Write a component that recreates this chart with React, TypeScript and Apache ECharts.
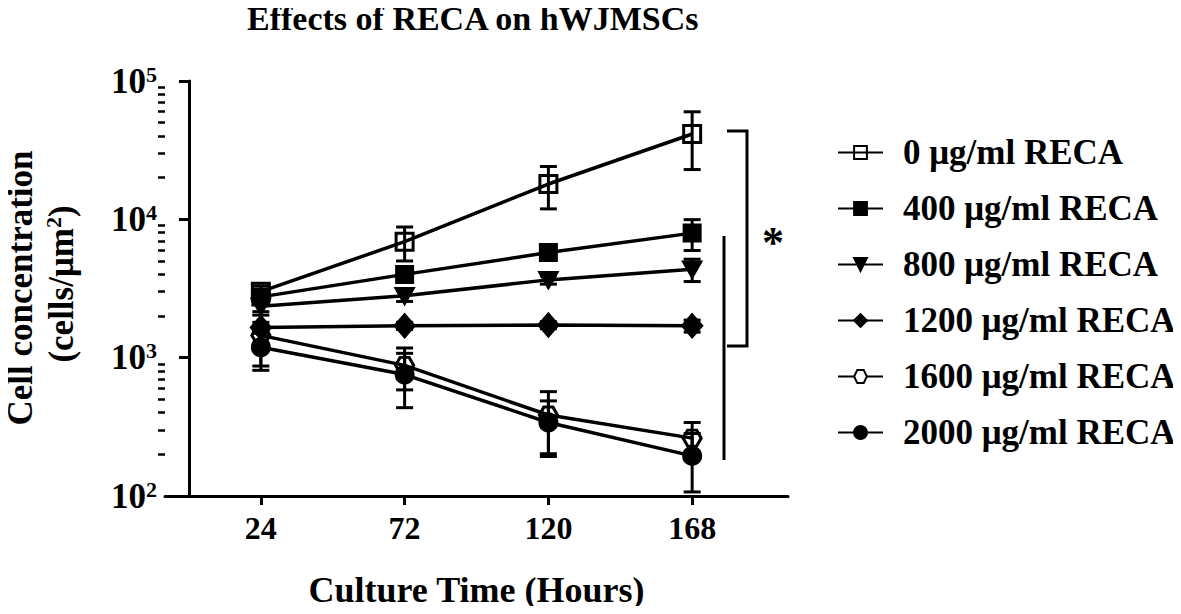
import React, { useEffect, useRef } from "react";
import * as echarts from "echarts";

const hours = [24, 72, 120, 168];
const xTicks = [24, 72, 120, 168];
const yMajor = [100, 1000, 10000, 100000];
const yMinor = [200, 300, 400, 500, 600, 700, 800, 900, 2000, 3000, 4000, 5000, 6000, 7000, 8000, 9000, 20000, 30000, 40000, 50000, 60000, 70000, 80000, 90000];

const names = [
  "0 μg/ml RECA",
  "400 μg/ml RECA",
  "800 μg/ml RECA",
  "1200 μg/ml RECA",
  "1600 μg/ml RECA",
  "2000 μg/ml RECA",
];

const mean0 = [3000, 6900, 18000, 41400];
const sd0 = [300, 1900, 6100, 18500];
const mean400 = [2750, 4000, 5750, 7950];
const sd400 = [250, 300, 400, 2000];
const mean800 = [2350, 2800, 3650, 4350];
const sd800 = [200, 250, 250, 800];
const mean1200 = [1650, 1700, 1720, 1700];
const sd1200 = [150, 100, 100, 170];
const mean1600 = [1450, 880, 385, 262];
const sd1600 = [580, 295, 183, 78];
const mean2000 = [1190, 755, 340, 195];
const sd2000 = [380, 320, 147, 88];

const means = [mean0, mean400, mean800, mean1200, mean1600, mean2000];
const sds = [sd0, sd400, sd800, sd1200, sd1600, sd2000];

const FONT = "'Liberation Serif', 'Times New Roman', serif";
const HEX = "path://M0,5 L3,0 L9,0 L12,5 L9,10 L3,10 Z";
const TRI_DOWN = "path://M0,0 L10,0 L5,9 Z";

const symbols: any[] = [
  { symbol: "rect", size: 17, fill: "rgba(0,0,0,0)" },
  { symbol: "rect", size: 16, fill: "#000" },
  { symbol: TRI_DOWN, size: [17, 15], fill: "#000" },
  { symbol: "diamond", size: [19, 22], fill: "#000" },
  { symbol: HEX, size: [18, 16], fill: "rgba(0,0,0,0)" },
  { symbol: "circle", size: 17, fill: "#000" },
];

export default function App() {
  const ref = useRef<HTMLDivElement>(null);
  useEffect(() => {
    if (!ref.current) return;
    const chart = echarts.init(ref.current, null, { renderer: "svg" });

    const lineSeries = names.map((name, i) => ({
      name,
      type: "line",
      xAxisIndex: 0,
      yAxisIndex: 0,
      data: hours.map((h, j) => [h, means[i][j]]),
      symbol: symbols[i].symbol,
      symbolSize: symbols[i].size,
      showSymbol: true,
      lineStyle: { color: "#000", width: 3.5 },
      itemStyle: { color: symbols[i].fill, borderColor: "#000", borderWidth: 3 },
      z: 3,
    }));

    const errSeries = names.map((name, i) => ({
      name: name + " err",
      type: "custom",
      xAxisIndex: 0,
      yAxisIndex: 0,
      z: 2,
      data: hours.map((h, j) => [h, means[i][j] - sds[i][j], means[i][j] + sds[i][j]]),
      renderItem: (params: any, api: any) => {
        const x = api.value(0);
        const lo = api.coord([x, api.value(1)]);
        const hi = api.coord([x, api.value(2)]);
        const hw = 8.5;
        const style = { stroke: "#000", lineWidth: 3, fill: "none" };
        return {
          type: "group",
          children: [
            { type: "line", shape: { x1: lo[0], y1: lo[1], x2: hi[0], y2: hi[1] }, style },
            { type: "line", shape: { x1: lo[0] - hw, y1: lo[1], x2: lo[0] + hw, y2: lo[1] }, style },
            { type: "line", shape: { x1: hi[0] - hw, y1: hi[1], x2: hi[0] + hw, y2: hi[1] }, style },
          ],
        };
      },
      encode: { x: 0, y: [1, 2] },
      silent: true,
    }));

    const option: any = {
      animation: false,
      backgroundColor: "#fff",
      grid: { left: 165, right: 393, top: 81, bottom: 118, containLabel: false },
      legend: {
        orient: "vertical",
        left: 832,
        top: 130,
        itemWidth: 45,
        itemHeight: 16,
        itemGap: 21,
        data: names.map((n, i) => (i === 4 ? { name: n, itemStyle: { color: "#fff" } } : { name: n })),
        textStyle: {
          fontFamily: FONT,
          fontWeight: "bold",
          fontSize: 35,
          color: "#000",
          padding: [0, 0, 0, 15],
        },
      },
      xAxis: {
        type: "value",
        min: -8,
        max: 200,
        splitLine: { show: false },
        axisLine: { lineStyle: { color: "#000", width: 3 } },
        axisTick: { show: true, customValues: xTicks, length: 9, lineStyle: { color: "#000", width: 3 } },
        axisLabel: {
          customValues: xTicks,
          margin: 16,
          fontFamily: FONT,
          fontWeight: "bold",
          fontSize: 32,
          color: "#000",
        },
        name: "Culture Time (Hours)",
        nameLocation: "middle",
        nameGap: 76,
        nameTextStyle: { fontFamily: FONT, fontWeight: "bold", fontSize: 36, color: "#000" },
      },
      yAxis: [
        {
          type: "log",
          logBase: 10,
          min: 100,
          max: 100000,
          splitLine: { show: false },
          axisLine: { show: true, lineStyle: { color: "#000", width: 3 } },
          axisTick: { show: true, customValues: yMajor, length: 10, lineStyle: { color: "#000", width: 3 } },
          axisLabel: {
            customValues: yMajor,
            margin: 8,
            formatter: (v: number) => `{b|10}{s|${Math.round(Math.log10(v))}}`,
            rich: {
              b: { fontFamily: FONT, fontWeight: "bold", fontSize: 35, color: "#000", lineHeight: 36 },
              s: { fontFamily: FONT, fontWeight: "bold", fontSize: 22, color: "#000", lineHeight: 18, verticalAlign: "top" },
            },
          },
        },
        {
          type: "log",
          logBase: 10,
          min: 100,
          max: 100000,
          position: "left",
          splitLine: { show: false },
          axisLine: { show: false },
          axisLabel: { show: false },
          axisTick: { show: true, customValues: yMinor, length: 7, lineStyle: { color: "#000", width: 2.5 } },
        },
      ],
      graphic: [
        {
          type: "text",
          x: 247,
          y: 18,
          style: {
            text: "Effects of RECA on hWJMSCs",
            font: `bold 34px ${FONT}`,
            fill: "#000",
            align: "left",
            verticalAlign: "middle",
          },
        },
        {
          type: "text",
          x: 20,
          y: 288,
          rotation: Math.PI / 2,
          style: {
            text: "Cell concentration",
            font: `bold 35px ${FONT}`,
            fill: "#000",
            align: "center",
            verticalAlign: "middle",
          },
        },
        {
          type: "text",
          x: 61,
          y: 284,
          rotation: Math.PI / 2,
          style: {
            text: "{a|(cells/μm}{s|2}{a|)}",
            align: "center",
            verticalAlign: "middle",
            rich: {
              a: { font: `bold 35px ${FONT}`, fill: "#000", lineHeight: 38 },
              s: { font: `bold 22px ${FONT}`, fill: "#000", lineHeight: 20, verticalAlign: "top" },
            },
          },
        },
        {
          type: "polyline",
          shape: { points: [[727, 131], [747, 131], [747, 346], [727, 346]] },
          style: { stroke: "#000", lineWidth: 3, fill: "none" },
        },
        {
          type: "line",
          shape: { x1: 724, y1: 236, x2: 724, y2: 460 },
          style: { stroke: "#000", lineWidth: 3 },
        },
        {
          type: "text",
          x: 773,
          y: 242,
          style: {
            text: "*",
            font: `bold 44px ${FONT}`,
            fill: "#000",
            align: "center",
            verticalAlign: "middle",
          },
        },
      ],
      series: [...errSeries, ...lineSeries],
    };
    chart.setOption(option);
    return () => chart.dispose();
  }, []);
  return <div ref={ref} style={{ width: 1181, height: 614, margin: -8 }} />;
}
